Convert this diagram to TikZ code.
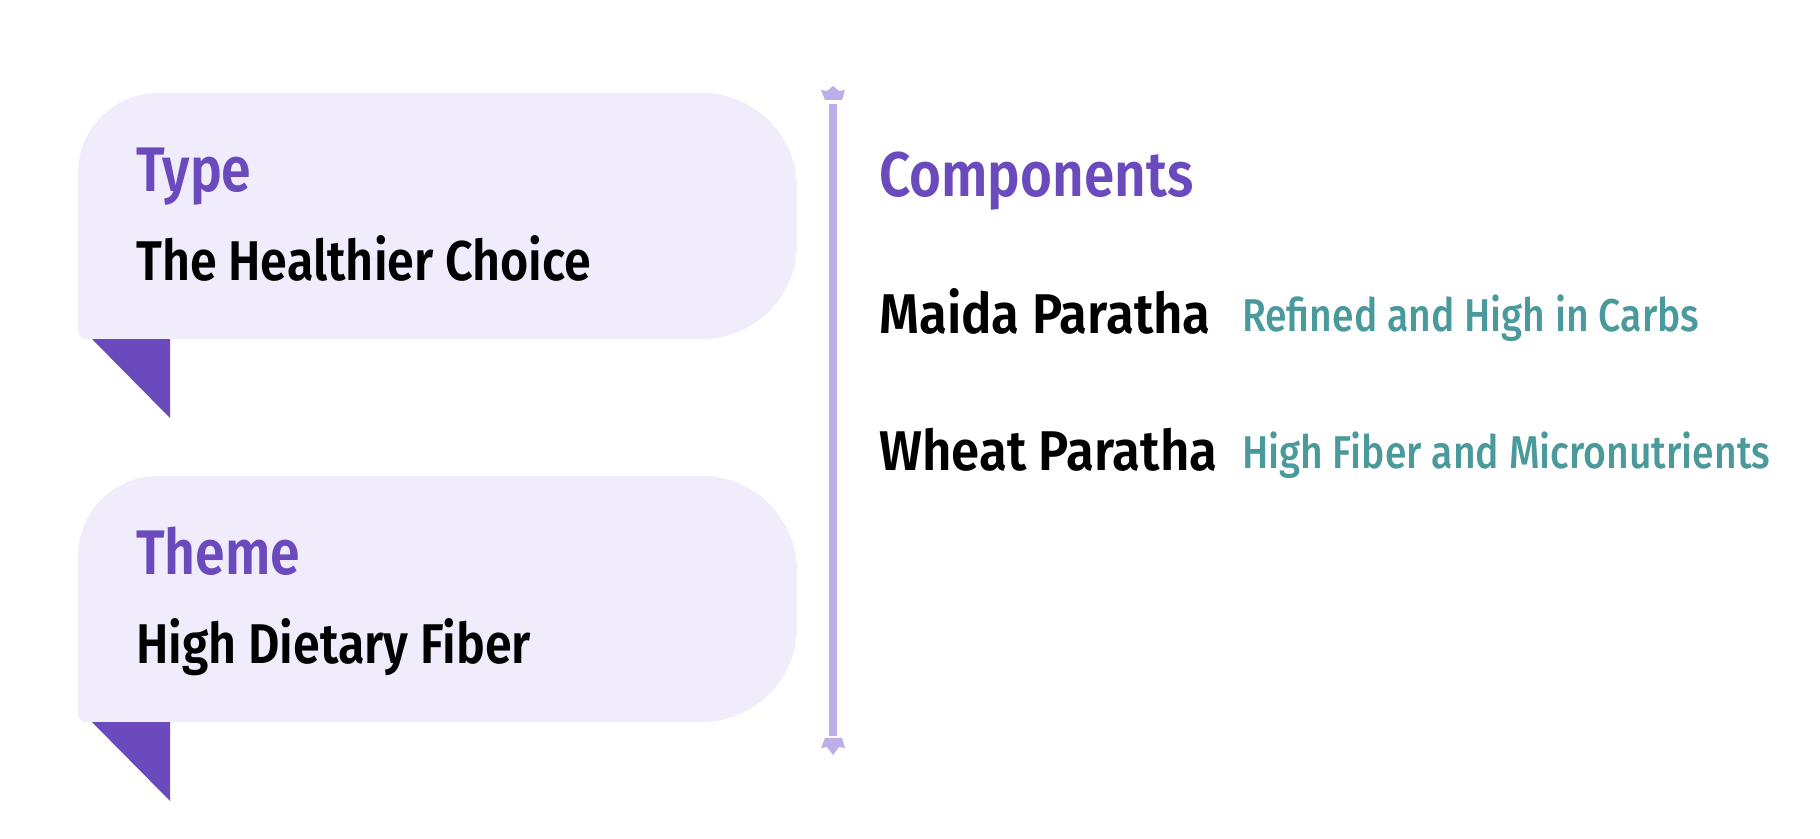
\documentclass[tikz,border=0pt]{standalone}
\usepackage{fontspec}
\newfontfamily\hfont[FakeStretch=0.85, UprightFont=* Medium]{Fira Sans}
\newfontfamily\sfont[FakeStretch=0.85, UprightFont=* SemiBold]{Fira Sans}
\newfontfamily\cfont[FakeStretch=0.87, UprightFont=* SemiBold]{Fira Sans}
\newfontfamily\vfont[FakeStretch=0.865, UprightFont=* SemiBold]{Fira Sans}
\newfontfamily\wfont[FakeStretch=0.91, UprightFont=* SemiBold]{Fira Sans}
\definecolor{purp}{HTML}{6A4ABD}
\definecolor{boxbg}{HTML}{F0ECFC}
\definecolor{linec}{HTML}{BCAEE8}
\definecolor{teal}{HTML}{4A999B}
\tikzset{
  boxfill/.style={fill=boxbg, draw=none},
  flag/.style={fill=purp, draw=none},
  head/.style={anchor=base west, inner sep=0pt, text=purp, font=\sfont\fontsize{63}{63}\selectfont},
  comphead/.style={anchor=base west, inner sep=0pt, text=purp, font=\cfont\fontsize{63}{63}\selectfont},
  val/.style={anchor=base west, inner sep=0pt, text=black, font=\vfont\fontsize{56}{56}\selectfont},
  item/.style={anchor=base west, inner sep=0pt, text=black, font=\wfont\fontsize{56}{56}\selectfont},
  note/.style={anchor=base west, inner sep=0pt, text=teal, font=\hfont\fontsize{46}{46}\selectfont},
}
\begin{document}
\begin{tikzpicture}[x=1pt,y=1pt]
\useasboundingbox (0,0) rectangle (1820,838);
% box 1
\fill[flag] (89,502) -- (170,502) -- (170,420) -- cycle;
\fill[boxfill] (86,499) -- (702,499) arc (270:360:95) -- (797,650) arc (0:90:95) -- (158,745) arc (90:180:80) -- (78,507) arc (180:270:8) -- cycle;
% box 2
\fill[flag] (89,119) -- (170,119) -- (170,37) -- cycle;
\fill[boxfill] (86,116) -- (702,116) arc (270:360:95) -- (797,267) arc (0:90:95) -- (158,362) arc (90:180:80) -- (78,124) arc (180:270:8) -- cycle;
% texts
\node[head] (type) at (136,646) {Type};
\node[val] (typev) at (136,557) {The Healthier Choice};
\node[head] (theme) at (136,263) {Theme};
\node[val] (themev) at (136,174) {High Dietary Fiber};
% vertical line
\fill[linec] (829,102) rectangle (837,734);
\fill[linec] (825,738) -- (842,738) -- (845,748) -- (839,747) -- (833,752) -- (827,747) -- (821,748) -- cycle;
\fill[linec] (825,100) -- (842,100) -- (845,90) -- (839,91) -- (833,83) -- (827,91) -- (821,90) -- cycle;
% right
\node[comphead] (comp) at (879,641) {Components};
\node[item] (maida) at (879,504) {Maida Paratha};
\node[note] (maidan) at (1242,506) {Refined and High in Carbs};
\node[item] (wheat) at (879,367) {Wheat Paratha};
\node[note] (wheatn) at (1242,369) {High Fiber and Micronutrients};
\end{tikzpicture}
\end{document}
